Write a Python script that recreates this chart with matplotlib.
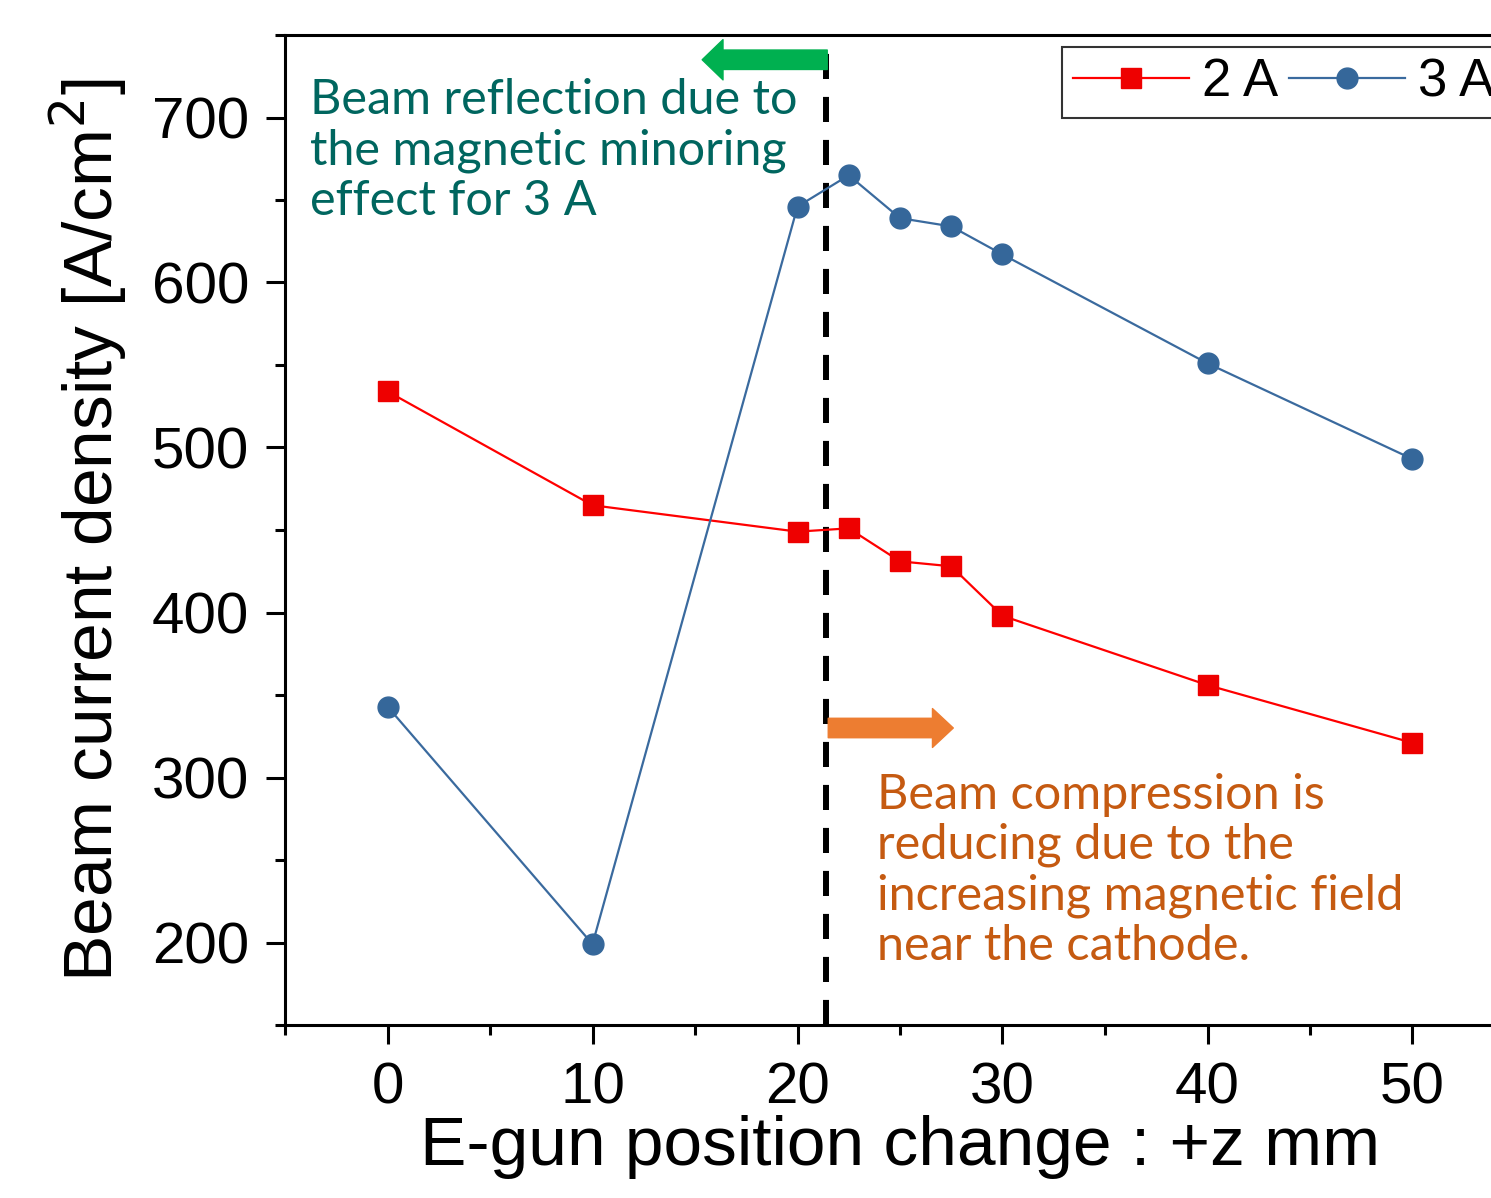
import matplotlib
matplotlib.use("Agg")
import matplotlib.pyplot as plt
from matplotlib.ticker import MultipleLocator

# E-gun position change (mm)
z_pos = [0, 10, 20, 22.5, 25, 27.5, 30, 40, 50]
# beam current density (A/cm^2)
j_2A = [534, 465, 449, 451, 431, 428, 398, 356, 321]
j_3A = [343, 199, 646, 665, 639, 634, 617, 551, 493]

boundary_z = 21.4

plt.rcParams['font.family'] = ['Liberation Sans', 'DejaVu Sans']

fig = plt.figure(figsize=(14.91, 11.98), dpi=100)
ax = fig.add_axes([285 / 1491, 173 / 1198, 1230 / 1491, 990 / 1198])

ax.plot(z_pos, j_2A, color='#ff0000', lw=1.6, marker='s', ms=15,
        mfc='#ee0000', mec='#ee0000', label='2 A', zorder=3)
ax.plot(z_pos, j_3A, color='#3a6a9e', lw=1.6, marker='o', ms=15,
        mfc='#35679a', mec='#35679a', label='3 A', zorder=3)

ax.plot([boundary_z, boundary_z], [150, 746], color='black', lw=4.3,
        dashes=(4.2, 3.0), zorder=2)

ax.set_xlim(-5, 55)
ax.set_ylim(150, 750)
ax.xaxis.set_major_locator(MultipleLocator(10))
ax.xaxis.set_minor_locator(MultipleLocator(5))
ax.yaxis.set_major_locator(MultipleLocator(100))
ax.yaxis.set_minor_locator(MultipleLocator(50))
ax.tick_params(which='both', direction='out', width=2.2, labelsize=42,
               top=False, right=False)
ax.tick_params(which='major', length=14, pad=12)
ax.tick_params(which='minor', length=7)
for s in ['left', 'bottom', 'top']:
    ax.spines[s].set_linewidth(2.2)
ax.spines['right'].set_visible(False)

ax.set_xlabel('E-gun position change : +z mm', fontsize=50, labelpad=0)
ax.set_ylabel('Beam current density [A/cm$^2$]', fontsize=50, labelpad=16)

leg = ax.legend(loc='upper left', bbox_to_anchor=(0.632, 0.988), ncol=2,
                fontsize=38, frameon=True, fancybox=False, edgecolor='black',
                borderaxespad=0, handlelength=2.2, handletextpad=0.25,
                columnspacing=0.2, borderpad=0.2)
leg.get_frame().set_linewidth(1.5)

ax.text(-3.8, 724, 'Beam reflection due to\nthe magnetic minoring\neffect for 3 A',
        family=['Lato', 'DejaVu Sans'], fontsize=35, color='#00665f',
        va='top', ha='left', linespacing=1.17)
ax.text(23.9, 303, 'Beam compression is\nreducing due to the\nincreasing magnetic field\nnear the cathode.',
        family=['Lato', 'DejaVu Sans'], fontsize=35, color='#c55a11',
        va='top', ha='left', linespacing=1.17)

# direction arrows
ax.annotate('', xy=(15.35, 735), xytext=(21.45, 735),
            arrowprops=dict(arrowstyle='simple,head_length=1.5,head_width=2.9,tail_width=1.4',
                            color='#00b050', shrinkA=0, shrinkB=0, mutation_scale=10))
ax.annotate('', xy=(27.6, 330), xytext=(21.5, 330),
            arrowprops=dict(arrowstyle='simple,head_length=1.5,head_width=2.8,tail_width=1.4',
                            color='#ed7d31', shrinkA=0, shrinkB=0, mutation_scale=10))

fig.savefig('out.png', dpi=100)
plt.close(fig)
